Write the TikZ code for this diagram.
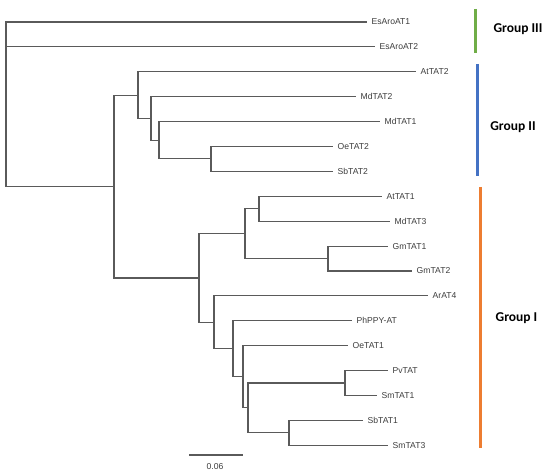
\documentclass[tikz,border=0pt]{standalone}
\usepackage{fontspec}
\setmainfont{Liberation Sans}
\newfontfamily\grpfont{Carlito}
\definecolor{treegray}{HTML}{5A5A5A}
\definecolor{labgray}{HTML}{3C3C3C}
\definecolor{grpgreen}{HTML}{70AD47}
\definecolor{grpblue}{HTML}{4472C4}
\definecolor{grporange}{HTML}{ED7D31}
\tikzset{
  branch/.style={draw=treegray, line width=1.1pt, line cap=rect},
  leaf/.style={anchor=west, inner xsep=5.5pt, inner ysep=0pt, text=labgray,
    font=\fontsize{8.6}{10}\selectfont},
  grouplabel/.style={font=\grpfont\bfseries\fontsize{13.5}{15}\selectfont, text=black, inner sep=0pt},
  groupbar/.style={line width=3pt},
}
\begin{document}
\begin{tikzpicture}[x=1pt,y=-1pt]
\useasboundingbox (0,0) rectangle (550,473);
% internal nodes
\coordinate (root) at (6,104);
\coordinate (A) at (114,186.6);
\coordinate (B) at (138,95.15);
\coordinate (C) at (151,118.5);
\coordinate (D) at (159,140.3);
\coordinate (E) at (211,158.95);
\coordinate (F) at (199,278);
\coordinate (G) at (245,233.65);
\coordinate (H) at (259,208.75);
\coordinate (I) at (328,258.55);
\coordinate (J) at (214,322.35);
\coordinate (K) at (233,348.8);
\coordinate (L) at (243,376.8);
\coordinate (M) at (248,407.95);
\coordinate (N) at (345,383.05);
\coordinate (O) at (289,432.85);
% leaves
\node[leaf] (esaro1) at (366,22) {EsAroAT1};
\node[leaf] (esaro2) at (374,46.9) {EsAroAT2};
\node[leaf] (attat2) at (415,71.8) {AtTAT2};
\node[leaf] (mdtat2) at (355,96.7) {MdTAT2};
\node[leaf] (mdtat1) at (379,121.6) {MdTAT1};
\node[leaf] (oetat2) at (332,146.5) {OeTAT2};
\node[leaf] (sbtat2) at (332,171.4) {SbTAT2};
\node[leaf] (attat1) at (381,196.3) {AtTAT1};
\node[leaf] (mdtat3) at (389,221.2) {MdTAT3};
\node[leaf] (gmtat1) at (387,246.1) {GmTAT1};
\node[leaf] (gmtat2) at (411,271) {GmTAT2};
\node[leaf] (arat4) at (427,295.9) {ArAT4};
\node[leaf] (phppy) at (351,320.8) {PhPPY-AT};
\node[leaf] (oetat1) at (347,345.7) {OeTAT1};
\node[leaf] (pvtat) at (387,370.6) {PvTAT};
\node[leaf] (smtat1) at (376,395.5) {SmTAT1};
\node[leaf] (sbtat1) at (362,420.4) {SbTAT1};
\node[leaf] (smtat3) at (387,445.3) {SmTAT3};
% branches
\draw[branch] (root) |- (esaro1.west);
\draw[branch] (root) |- (esaro2.west);
\draw[branch] (root) |- (A);
\draw[branch] (A) |- (B);
\draw[branch] (A) |- (F);
\draw[branch] (B) |- (attat2.west);
\draw[branch] (B) |- (C);
\draw[branch] (C) |- (mdtat2.west);
\draw[branch] (C) |- (D);
\draw[branch] (D) |- (mdtat1.west);
\draw[branch] (D) |- (E);
\draw[branch] (E) |- (oetat2.west);
\draw[branch] (E) |- (sbtat2.west);
\draw[branch] (F) |- (G);
\draw[branch] (F) |- (J);
\draw[branch] (G) |- (H);
\draw[branch] (G) |- (I);
\draw[branch] (H) |- (attat1.west);
\draw[branch] (H) |- (mdtat3.west);
\draw[branch] (I) |- (gmtat1.west);
\draw[branch] (I) |- (gmtat2.west);
\draw[branch] (J) |- (arat4.west);
\draw[branch] (J) |- (K);
\draw[branch] (K) |- (phppy.west);
\draw[branch] (K) |- (L);
\draw[branch] (L) |- (oetat1.west);
\draw[branch] (L) |- (M);
\draw[branch] (M) |- (N);
\draw[branch] (M) |- (O);
\draw[branch] (N) |- (pvtat.west);
\draw[branch] (N) |- (smtat1.west);
\draw[branch] (O) |- (sbtat1.west);
\draw[branch] (O) |- (smtat3.west);
% scale bar
\coordinate (sb1) at (189,455);
\coordinate (sb2) at (243,455);
\draw[branch, line cap=butt] (sb1) -- (sb2);
\node[text=labgray, font=\fontsize{8.6}{10}\selectfont, inner sep=0pt] (sblabel) at (215,467) {0.06};
% group bars
\draw[groupbar, grpgreen] (475,9) -- (475,53);
\draw[groupbar, grpblue] (477,64) -- (477,176);
\draw[groupbar, grporange] (480,187) -- (480,448);
\node[grouplabel] (g3) at (518,29) {Group III};
\node[grouplabel] (g2) at (513,127) {Group II};
\node[grouplabel] (g1) at (516.5,318) {Group I};
\end{tikzpicture}
\end{document}
